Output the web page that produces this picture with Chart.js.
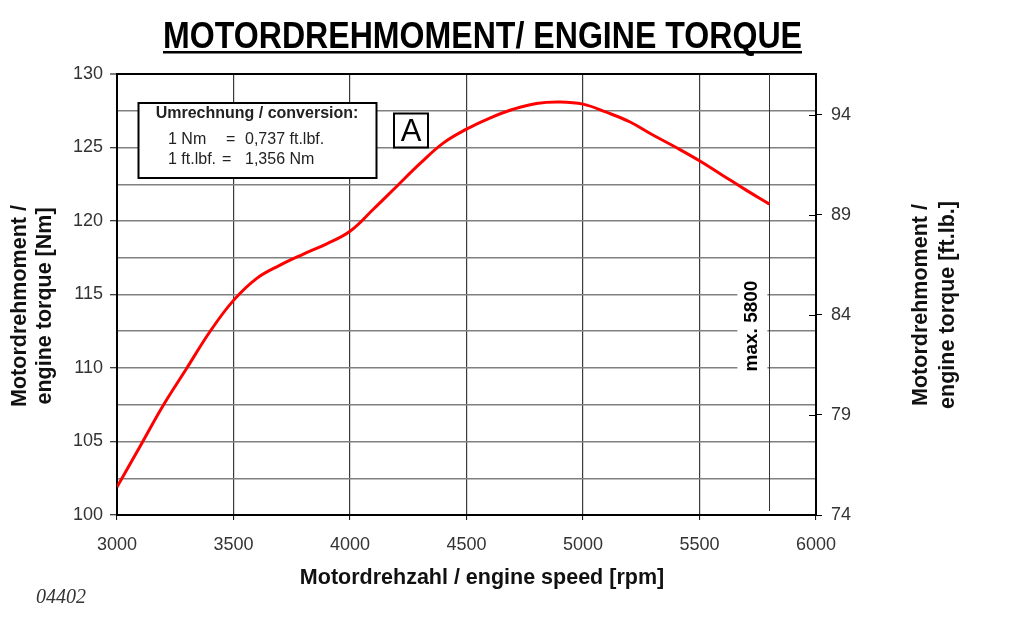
<!DOCTYPE html>
<html>
<head>
<meta charset="utf-8">
<script src="https://cdn.jsdelivr.net/npm/chart.js@4.4.1/dist/chart.umd.min.js"></script>
<style>
html,body{margin:0;padding:0;background:#fff;}
#wrap{width:1009px;height:617px;position:relative;}
</style>
</head>
<body>
<div id="wrap"><canvas id="c"></canvas></div>
<script>
// ---- data ----
const rpm = [3000,3100,3200,3300,3400,3500,3600,3700,3800,3900,4000,4100,4200,4300,4400,4500,4600,4700,4800,4900,5000,5100,5200,5300,5400,5500,5600,5700,5800];
const torqueNm = [101.9,104.7,107.5,110.0,112.5,114.6,116.1,117.0,117.75,118.45,119.3,120.8,122.35,123.9,125.3,126.25,127.0,127.6,128.0,128.1,127.95,127.4,126.75,125.85,125.0,124.1,123.1,122.1,121.15];
const rpmTickStep = 500;
const nmTickStep = 2.5;
const nmLabelStep = 5;
const ftLbTicks = [74,79,84,89,94];
const maxRpm = 5800;
const titleText = 'MOTORDREHMOMENT/ ENGINE TORQUE';
const xTitle = 'Motordrehzahl / engine speed [rpm]';
const yTitle = ['Motordrehmoment /', 'engine torque [Nm]'];
const y2Title = ['Motordrehmoment /', 'engine torque [ft.lb.]'];
const convHeader = 'Umrechnung / conversion:';
const convLines = [['1 Nm', '=', '0,737 ft.lbf.'], ['1 ft.lbf.', '=', '1,356 Nm']];
const markLabel = 'A';
const maxLabel = 'max. 5800';
const docNumber = '04402';

const FONT = '"Liberation Sans", Arial, Helvetica, sans-serif';

const overlay = {
  id: 'overlay',
  beforeDatasetsDraw(chart) {
    const ctx = chart.ctx, xs = chart.scales.x, y2 = chart.scales.y2, a = chart.chartArea;
    ctx.save();
    // inner part of right axis ticks
    ctx.strokeStyle = '#000'; ctx.lineWidth = 1;
    ftLbTicks.forEach(v => {
      const py = Math.round(y2.getPixelForValue(v)) + 0.5;
      ctx.beginPath(); ctx.moveTo(a.right - 7, py); ctx.lineTo(a.right, py); ctx.stroke();
    });
    // max rpm line + label
    const mx = xs.getPixelForValue(maxRpm);
    ctx.fillStyle = '#fff';
    ctx.fillRect(mx - 32, 276, 30, 98);
    ctx.strokeStyle = '#333'; ctx.lineWidth = 1;
    ctx.beginPath(); ctx.moveTo(Math.round(mx) + 0.5, a.top); ctx.lineTo(Math.round(mx) + 0.5, a.bottom - 4); ctx.stroke();
    ctx.save();
    ctx.translate(mx - 17.5, 326);
    ctx.rotate(-Math.PI / 2);
    ctx.fillStyle = '#000';
    ctx.font = 'bold 19px ' + FONT;
    ctx.textAlign = 'center'; ctx.textBaseline = 'middle';
    ctx.fillText(maxLabel, 0, 0);
    ctx.restore();
    // conversion box
    ctx.fillStyle = '#fff';
    ctx.fillRect(138.5, 103, 238, 75);
    ctx.strokeStyle = '#000'; ctx.lineWidth = 2;
    ctx.strokeRect(138.5, 103, 238, 75);
    ctx.fillStyle = '#222';
    ctx.font = 'bold 16px ' + FONT;
    ctx.textAlign = 'center'; ctx.textBaseline = 'middle';
    ctx.fillText(convHeader, 257, 114);
    ctx.font = '16px ' + FONT;
    ctx.textAlign = 'left';
    const cols = [168, 226, 245];
    convLines.forEach((ln, i) => {
      const yy = 140 + i * 20;
      ctx.fillText(ln[0], cols[0], yy);
      ctx.fillText(ln[1], cols[1] - (i ? 4 : 0), yy);
      ctx.fillText(ln[2], cols[2], yy);
    });
    // A box
    ctx.fillStyle = '#fff';
    ctx.fillRect(394, 113.5, 34, 34);
    ctx.strokeStyle = '#000'; ctx.lineWidth = 2;
    ctx.strokeRect(394, 113.5, 34, 34);
    ctx.fillStyle = '#000';
    ctx.font = '31px ' + FONT;
    ctx.textAlign = 'center'; ctx.textBaseline = 'middle';
    ctx.fillText(markLabel, 411, 132);
    ctx.restore();
  },
  afterDraw(chart) {
    const ctx = chart.ctx;
    ctx.save();
    // main title
    ctx.fillStyle = '#000';
    ctx.font = 'bold 36px ' + FONT;
    const w = ctx.measureText(titleText).width;
    const targetW = 639;
    ctx.save();
    ctx.translate(482.5, 47.5);
    ctx.scale(targetW / w, 1);
    ctx.textAlign = 'center'; ctx.textBaseline = 'alphabetic';
    ctx.fillText(titleText, 0, 0);
    ctx.restore();
    ctx.fillRect(163, 51, targetW, 2.5);
    // axis titles
    ctx.font = 'bold 21.5px ' + FONT;
    ctx.textAlign = 'center'; ctx.textBaseline = 'middle';
    ctx.fillStyle = '#111';
    ctx.fillText(xTitle, 482, 578);
    const vtitle = (lines, xs, yc) => {
      lines.forEach((t, i) => {
        ctx.save();
        ctx.translate(xs[i], yc);
        ctx.rotate(-Math.PI / 2);
        ctx.fillText(t, 0, 0);
        ctx.restore();
      });
    };
    vtitle(yTitle, [20, 45], 306);
    vtitle(y2Title, [921, 948], 305);
    // doc number
    ctx.font = 'italic 20px "Liberation Serif", "Times New Roman", serif';
    ctx.fillStyle = '#333';
    ctx.textAlign = 'left';
    ctx.fillText(docNumber, 36, 598);
    ctx.restore();
  }
};

new Chart(document.getElementById('c'), {
  type: 'line',
  data: {
    datasets: [{
      data: rpm.map((r, i) => ({x: r, y: torqueNm[i]})),
      borderColor: '#ff0000',
      borderWidth: 3,
      pointRadius: 0,
      fill: false,
      tension: 0.4,
      yAxisID: 'y'
    }]
  },
  options: {
    responsive: true,
    maintainAspectRatio: false,
    devicePixelRatio: 1,
    animation: false,
    layout: {padding: {top: 74, left: 0, right: 0, bottom: 0}},
    plugins: {legend: {display: false}, title: {display: false}, tooltip: {enabled: false}},
    scales: {
      x: {
        type: 'linear',
        min: 3000, max: 6000,
        afterFit(s) { s.height = 102; },
        ticks: {stepSize: rpmTickStep, font: {size: 18, family: FONT}, color: '#333', padding: 14, maxRotation: 0, callback: v => String(v)},
        grid: {
          color: c => (c.tick && c.tick.value === 6000) ? '#000' : '#3a3a3a',
          lineWidth: 1.2,
          tickLength: 5,
          tickColor: '#000',
          tickWidth: 1
        },
        border: {color: '#000', width: 2}
      },
      y: {
        type: 'linear', position: 'left',
        min: 100, max: 130,
        afterFit(s) { s.width = 117; },
        ticks: {
          stepSize: nmTickStep,
          font: {size: 18, family: FONT}, color: '#333', padding: 7,
          callback: v => (v % nmLabelStep === 0 ? String(v) : '')
        },
        grid: {
          color: c => (c.tick && c.tick.value === 130) ? '#000' : '#808080',
          lineWidth: c => (c.tick && c.tick.value === 130) ? 2 : 1.5,
          tickLength: 7,
          tickColor: c => (c.tick && c.tick.value % nmLabelStep === 0) ? '#000' : 'rgba(0,0,0,0)',
          tickWidth: 1
        },
        border: {color: '#000', width: 2}
      },
      y2: {
        type: 'linear', position: 'right',
        min: 74, max: 96.05,
        afterFit(s) { s.width = 193; },
        afterBuildTicks(s) { s.ticks = ftLbTicks.map(v => ({value: v})); },
        ticks: {font: {size: 18, family: FONT}, color: '#333', padding: 9, callback: v => String(v)},
        grid: {drawOnChartArea: false, tickLength: 6, tickColor: '#000', tickWidth: 1},
        border: {color: '#000', width: 2}
      }
    }
  },
  plugins: [overlay]
});
</script>
</body>
</html>
